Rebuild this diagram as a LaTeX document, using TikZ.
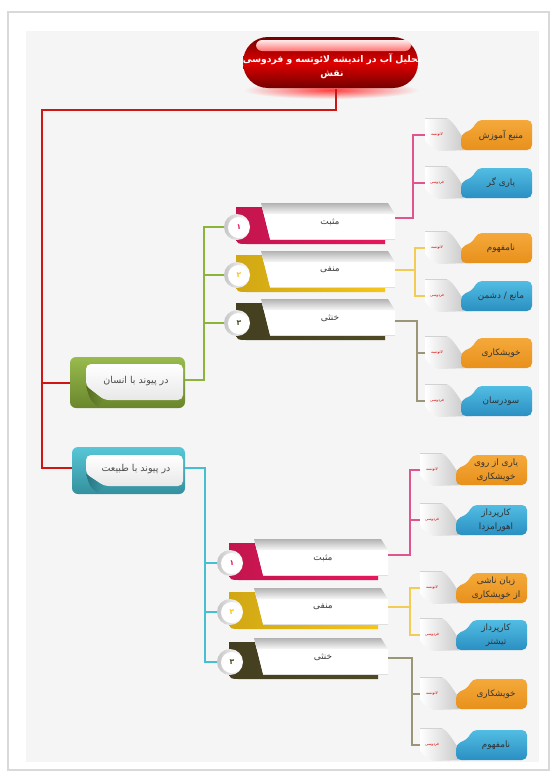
\documentclass[tikz,border=0pt]{standalone}
\usepackage{fontspec}
\newfontfamily\arabicfont[Script=Arabic]{DejaVu Sans}
\TeXXeTstate=1
\newcommand\prs[1]{{\arabicfont\beginR #1\endR}}
\definecolor{redC}{HTML}{D01515}
\definecolor{greenL}{HTML}{8DB33A}
\definecolor{cyanL}{HTML}{45C0D2}
\definecolor{pinkL}{HTML}{E0558E}
\definecolor{yellowL}{HTML}{F2CC55}
\definecolor{oliveL}{HTML}{9C9678}
\definecolor{pinkC}{HTML}{E5185C}
\definecolor{yellowC}{HTML}{F5C518}
\definecolor{oliveC}{HTML}{4F4A25}
\definecolor{orgtop}{HTML}{F4A93A}
\definecolor{orgbot}{HTML}{E8901C}
\definecolor{blutop}{HTML}{52BDE3}
\definecolor{blubot}{HTML}{2A8FC2}
\definecolor{bggray}{HTML}{F5F5F5}
\tikzset{
 redline/.style={draw=redC, line width=2.4pt},
 conn/.style={line width=1.3pt},
 leaftext/.style={align=center, text=black!80, font=\fontsize{8.8}{13.5}\selectfont, inner sep=0pt},
 smalllbl/.style={text=red!85!black, font=\fontsize{3.8}{4.5}\selectfont, inner sep=0pt},
 bantext/.style={text=black!75, font=\fontsize{9}{11}\selectfont, inner sep=0pt},
 grptext/.style={text=black!70, font=\fontsize{9.5}{11}\selectfont, inner sep=0pt},
}
\newcommand\leafitem[6]{%
\begin{scope}[shift={(#2,#3)}]
 \coordinate (#1w) at (0,0);
 \shade[left color=white, right color=gray!50] (0,-17) -- (22,-17) .. controls (31,-12) and (37,4) .. (47,15) -- (14,16) .. controls (6,13) and (2,9) .. (0,5) -- cycle;
 \draw[gray!35, line width=0.6pt] (0,-17) -- (22,-17);
 \shade[rounded corners=5pt, top color=#4top, bottom color=#4bot] (36,15) -- (36,-1) -- (48,-6) -- (52,-15) -- (107,-15) -- (107,15) -- cycle;
 \node[smalllbl] at (12,0) {\prs{#5}};
 \node[leaftext] (#1) at (76,0) {#6};
\end{scope}}
\newcommand\banneritem[7]{%
\begin{scope}[shift={(#2,#3)}]
 \shade[left color=#4!85!black, right color=#4] (-1,-20) -- (25,-20) -- (33,12) -- (148,12) -- (148,17) -- (10,17) .. controls (0,17) .. (-1,10) -- cycle;
 \fill[white] (24,-24) -- (151,-24) -- (158,-13) -- (158,12) -- (33,12) -- cycle;
 \shade[top color=gray!60, bottom color=gray!6] (24,-24) -- (151,-24) -- (158,-13) -- (26.7,-13) -- cycle;
 \draw[gray!25, line width=0.6pt] (33,12) -- (158,12);
 \shade[left color=gray!45, right color=white] (0,0) circle (13);
 \fill[white] (1.5,0.5) circle (10.5);
 \node[font=\fontsize{7.5}{8}\selectfont\bfseries, text=#4, inner sep=0pt] at (2,0.5) {\prs{#5}};
 \node[bantext] (#1) at (93,-5) {\prs{#6}};
 \coordinate (#1w) at (-13,0);
 \coordinate (#1e) at (158,#7);
\end{scope}}
\begin{document}
\begin{tikzpicture}[x=1pt,y=-1pt]
\useasboundingbox (0,0) rectangle (554,771);
\fill[white] (0,0) rectangle (554,771);
% card
\fill[gray!30] (7,11) rectangle (550,771);
\fill[white] (9,13) rectangle (548,769);
\fill[bggray] (26,31) rectangle (539,762);
% title
\shade[inner color=red!75, outer color=bggray] (331,90) ellipse (88 and 9);
\shade[rounded corners=25pt, top color=red!45!black, bottom color=red!45!black, middle color=red!88!black] (243,37) rectangle (418,88);
\shade[rounded corners=6pt, top color=white!92!red, bottom color=red!55] (256,40) rectangle (411,51);
\node[align=center, text=white, font=\fontsize{9.2}{14.5}\selectfont\bfseries, inner sep=0pt] (title) at (332,66) {\prs{تحلیل آب در اندیشه لائوتسه و فردوسی}\\\prs{نقش}};
\coordinate (ts) at (336,89);
\coordinate (rbend) at (42,110);
% group boxes
\shade[rounded corners=6pt, top color=greenL!90!white, bottom color=greenL!75!black] (70,357) rectangle (185,408);
\shade[rounded corners=5pt, top color=white, bottom color=gray!18] (86,364) -- (183,364) -- (183,400) -- (104,400) -- (86,386) -- cycle;
\shade[left color=greenL!60!black, right color=greenL!80!black] (86,386) -- (104,400) -- (98,407) .. controls (90,400) .. (86,386) -- cycle;
\node[grptext] (g1) at (136,381) {\prs{در پیوند با انسان}};
\coordinate (g1w) at (70,383);
\coordinate (g1e) at (185,380);
\shade[rounded corners=6pt, top color=cyanL!90!white, bottom color=cyanL!75!black] (72,447) rectangle (185,494);
\shade[rounded corners=5pt, top color=white, bottom color=gray!18] (86,455) -- (183,455) -- (183,486) -- (104,486) -- (86,474) -- cycle;
\shade[left color=cyanL!60!black, right color=cyanL!80!black] (86,474) -- (104,486) -- (98,493) .. controls (90,487) .. (86,474) -- cycle;
\node[grptext] (g2) at (136,469) {\prs{در پیوند با طبیعت}};
\coordinate (g2w) at (72,468);
\coordinate (g2e) at (185,468);
% red connectors
\draw[redline] (ts) |- (rbend) |- (g2w);
\draw[redline] (rbend) |- (g1w);
% banners top group
\banneritem{b11}{237}{227}{pinkC}{۱}{مثبت}{-9}
\banneritem{b12}{237}{275}{yellowC}{۲}{منفی}{-5}
\banneritem{b13}{237}{323}{oliveC}{۳}{خنثی}{-2}
% banners bottom group
\banneritem{b21}{230}{563}{pinkC}{۱}{مثبت}{-8}
\banneritem{b22}{230}{612}{yellowC}{۲}{منفی}{-5}
\banneritem{b23}{230}{662}{oliveC}{۳}{خنثی}{-4}
% group connectors
\draw[conn, draw=greenL] (g1e) -- ++(19,0) |- (b11w);
\draw[conn, draw=greenL] (g1e) -- ++(19,0) |- (b12w);
\draw[conn, draw=greenL] (g1e) -- ++(19,0) |- (b13w);
\draw[conn, draw=cyanL] (g2e) -- ++(20,0) |- (b21w);
\draw[conn, draw=cyanL] (g2e) -- ++(20,0) |- (b22w);
\draw[conn, draw=cyanL] (g2e) -- ++(20,0) |- (b23w);
% leaves top group
\leafitem{l11}{425}{135}{org}{لائوتسه}{\prs{منبع آموزش}}
\leafitem{l12}{425}{183}{blu}{فردوسی}{\prs{یاری گر}}
\leafitem{l13}{425}{248}{org}{لائوتسه}{\prs{نامفهوم}}
\leafitem{l14}{425}{296}{blu}{فردوسی}{\prs{مانع / دشمن}}
\leafitem{l15}{425}{353}{org}{لائوتسه}{\prs{خویشکاری}}
\leafitem{l16}{425}{401}{blu}{فردوسی}{\prs{سودرسان}}
% leaves bottom group
\leafitem{l21}{420}{470}{org}{لائوتسه}{\prs{یاری از روی}\\\prs{خویشکاری}}
\leafitem{l22}{420}{520}{blu}{فردوسی}{\prs{کارپرداز}\\\prs{اهورامزدا}}
\leafitem{l23}{420}{588}{org}{لائوتسه}{\prs{زبان ناشی}\\\prs{از خویشکاری}}
\leafitem{l24}{420}{635}{blu}{فردوسی}{\prs{کارپرداز}\\\prs{تیشتر}}
\leafitem{l25}{420}{694}{org}{لائوتسه}{\prs{خویشکاری}}
\leafitem{l26}{420}{745}{blu}{فردوسی}{\prs{نامفهوم}}
% leaf connectors
\draw[conn, draw=pinkL, line width=1.1pt] (l11w) -- ++(-12,0) |- (b11e);
\draw[conn, draw=pinkL, line width=1.1pt] (l12w) -- ++(-12,0) |- (b11e);
\draw[conn, draw=yellowL, line width=1.1pt] (l13w) -- ++(-10,0) |- (b12e);
\draw[conn, draw=yellowL, line width=1.1pt] (l14w) -- ++(-10,0) |- (b12e);
\draw[conn, draw=oliveL, line width=1.1pt] (l15w) -- ++(-8,0) |- (b13e);
\draw[conn, draw=oliveL, line width=1.1pt] (l16w) -- ++(-8,0) |- (b13e);
\draw[conn, draw=pinkL, line width=1.1pt] (l21w) -- ++(-10,0) |- (b21e);
\draw[conn, draw=pinkL, line width=1.1pt] (l22w) -- ++(-10,0) |- (b21e);
\draw[conn, draw=yellowL, line width=1.1pt] (l23w) -- ++(-10,0) |- (b22e);
\draw[conn, draw=yellowL, line width=1.1pt] (l24w) -- ++(-10,0) |- (b22e);
\draw[conn, draw=oliveL, line width=1.1pt] (l25w) -- ++(-8,0) |- (b23e);
\draw[conn, draw=oliveL, line width=1.1pt] (l26w) -- ++(-8,0) |- (b23e);
\end{tikzpicture}
\end{document}
